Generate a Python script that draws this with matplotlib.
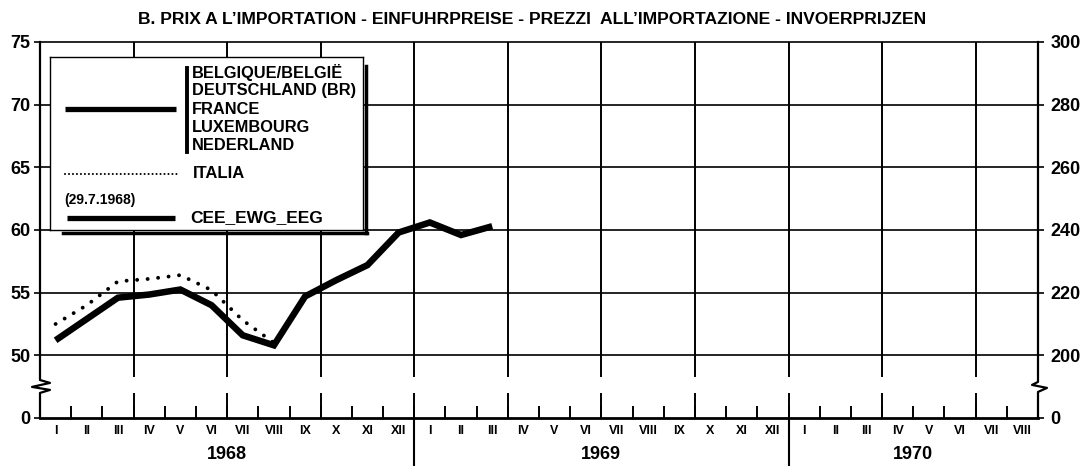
import matplotlib
matplotlib.use('Agg')
import matplotlib.pyplot as plt

plt.rcParams['font.family'] = ['Liberation Sans Narrow', 'Liberation Sans', 'DejaVu Sans']
plt.rcParams['font.weight'] = 'bold'

# data (monthly, from I-1968)
months = ['I', 'II', 'III', 'IV', 'V', 'VI', 'VII', 'VIII', 'IX', 'X', 'XI', 'XII']
month_labels = months + months + months[:8]
years = ['1968', '1969', '1970']
year_centers = [6, 18, 28]

cee = [51.2, 52.9, 54.6, 54.85, 55.25, 54.0, 51.6, 50.8, 54.7, 56.0, 57.2, 59.8,
       60.6, 59.6, 60.3]
italia = [52.5, 54.0, 55.9, 56.1, 56.4, 55.2, 52.8, 51.0]

left_ticks = [45, 50, 55, 60, 65, 70, 75]
left_labels = ['0', '50', '55', '60', '65', '70', '75']
right_ticks = [180, 200, 220, 240, 260, 280, 300]
right_labels = ['0', '200', '220', '240', '260', '280', '300']

legend_countries = ['BELGIQUE/BELGIË', 'DEUTSCHLAND (BR)', 'FRANCE', 'LUXEMBOURG', 'NEDERLAND']
title = 'B. PRIX A L’IMPORTATION - EINFUHRPREISE - PREZZI  ALL’IMPORTAZIONE - INVOERPRIJZEN'

W, H = 1089, 466
fig = plt.figure(figsize=(W / 100, H / 100), dpi=100)
ax = fig.add_axes([40 / W, (H - 418) / H, 998 / W, 376 / H])
ax.set_xlim(0, len(month_labels))
ax.set_ylim(45, 75)

for s in ['left', 'right']:
    ax.spines[s].set_visible(False)
ax.spines['top'].set_linewidth(1.2)
ax.spines['bottom'].set_linewidth(2)

# grid
for y in left_ticks[1:-1]:
    ax.axhline(y, color='black', lw=1.2, zorder=1)
quarters = list(range(3, len(month_labels), 3))
ax.vlines(quarters, 48.25, 75, color='black', lw=1.4, zorder=1)
ax.vlines(quarters, 45, 47.0, color='black', lw=1.4, zorder=1)

# broken spines
yt = ax.get_yaxis_transform()
ax.plot([0, 0, 0.010, -0.008, 0.010, 0, 0], [75, 48.03, 47.8, 47.48, 47.24, 47.0, 45],
        color='black', lw=1.6, transform=yt, clip_on=False)
ax.plot([1, 1, 0.994, 1.009, 1, 1], [75, 47.88, 47.64, 47.4, 47.08, 45],
        color='black', lw=1.6, transform=yt, clip_on=False)

# month ticks and labels
ax.set_xticks(range(1, len(month_labels)))
ax.tick_params(axis='x', which='major', direction='in', length=9, width=1.4, labelbottom=False)
ax.set_xticks([i + 0.5 for i in range(len(month_labels))], minor=True)
ax.set_xticklabels(month_labels, minor=True, fontsize=9)
ax.tick_params(axis='x', which='minor', length=0, pad=5)

ax.set_yticks(left_ticks)
ax.set_yticklabels(left_labels, fontsize=13)
ax.tick_params(axis='y', length=4, width=1.2, pad=3)

ax2 = ax.twinx()
ax2.set_ylim(180, 300)
for s in ax2.spines.values():
    s.set_visible(False)
ax2.set_yticks(right_ticks)
ax2.set_yticklabels(right_labels, fontsize=13)
ax2.tick_params(axis='y', length=4, width=1.2, pad=5)

# year separators and labels
xt = ax.get_xaxis_transform()
for xs in [12, 24]:
    ax.plot([xs, xs], [0, -0.125], color='black', lw=1.5, transform=xt, clip_on=False)
for xc, yr in zip(year_centers, years):
    ax.text(xc, -0.098, yr, transform=xt, ha='center', va='center', fontsize=13)

# series
ax.plot([i + 0.5 for i in range(len(italia))], italia, color='black', lw=2.8,
        linestyle=(0, (0.01, 2.7)), dash_capstyle='round', zorder=3)
ax.plot([i + 0.5 for i in range(len(cee))], cee, color='black', lw=4.7,
        solid_capstyle='butt', solid_joinstyle='miter', zorder=4)

fig.text(532 / W, 1 - 20 / H, title, ha='center', va='center', fontsize=12.6)

# legend box (pixel coords of the picture)
lax = fig.add_axes([50 / W, 1 - 230 / H, 313 / W, 173 / H])
lax.set_xlim(50, 363)
lax.set_ylim(230, 57)
lax.set_xticks([])
lax.set_yticks([])
for s in lax.spines.values():
    s.set_linewidth(1)
lax.plot([63, 366.5], [232.5, 232.5], color='black', lw=2.5, clip_on=False)
lax.plot([365.5, 365.5], [66, 232.5], color='black', lw=2.5, clip_on=False)

lax.plot([65, 176], [109.5, 109.5], color='black', lw=3.8, solid_capstyle='butt')
lax.plot([187, 187], [68, 152], color='black', lw=2.8)
for i, name in enumerate(legend_countries):
    lax.text(192, 72.5 + i * 18.3, name, va='center', fontsize=11.8)
lax.plot([65, 178], [174.5, 174.5], color='black', lw=1.5,
         linestyle=(0, (0.01, 1.9)), dash_capstyle='round')
lax.text(193, 174, 'ITALIA', va='center', fontsize=12)
lax.text(64, 200, '(29.7.1968)', va='center', fontsize=10)
lax.plot([67, 175], [218, 218], color='black', lw=3.8, solid_capstyle='butt')
lax.text(190, 218, 'CEE_EWG_EEG', va='center', fontsize=12.5)

fig.savefig('out.png', dpi=100)
